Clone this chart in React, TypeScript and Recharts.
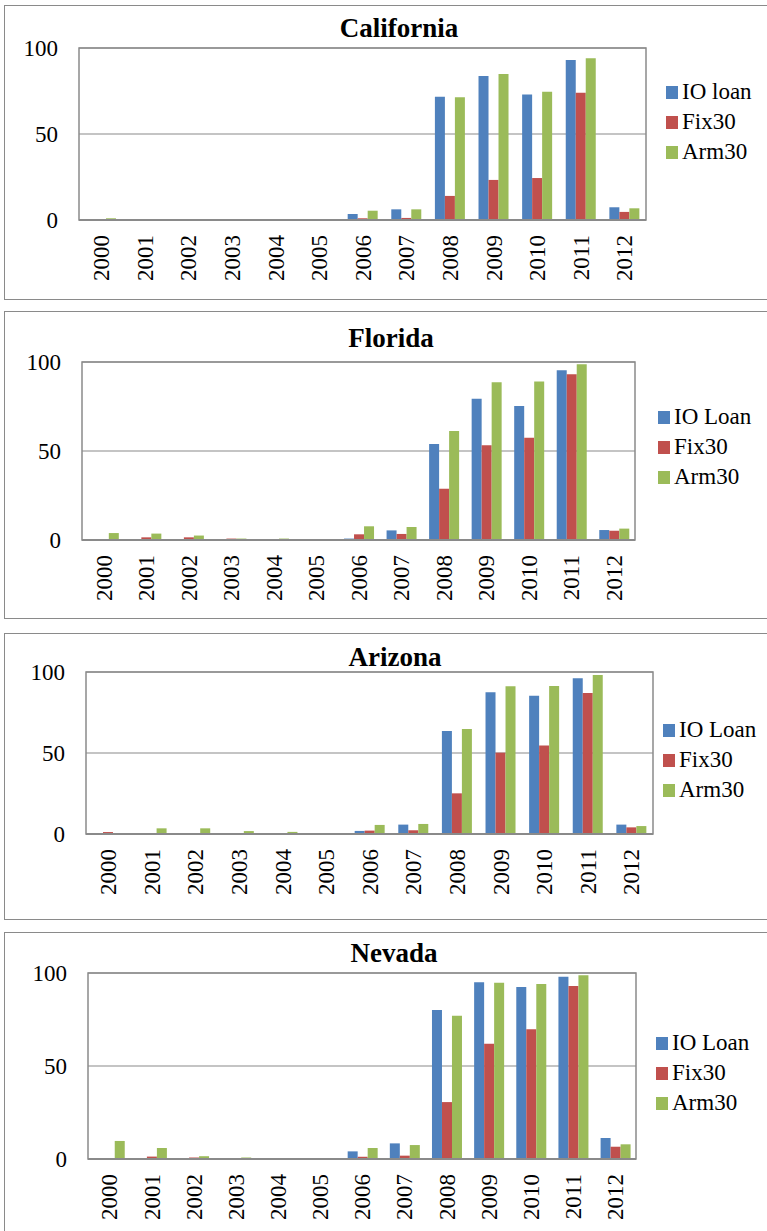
import React from 'react';
import { BarChart, Bar, XAxis, YAxis, CartesianGrid, Legend, ReferenceArea } from 'recharts';

const years = ['2000', '2001', '2002', '2003', '2004', '2005', '2006', '2007', '2008', '2009', '2010', '2011', '2012'];
const yTicks = [0, 50, 100];
const seriesColors = ['#4F81BD', '#C0504D', '#9BBB59'];

// California
const caIO = [0, 0, 0, 0, 0, 0, 3.5, 6.2, 71.7, 83.7, 72.9, 93, 7.4];
const caFix = [0.5, 0, 0, 0, 0, 0, 1, 1.2, 14, 23.3, 24.4, 74, 4.7];
const caArm = [1, 0, 0, 0, 0, 0, 5.4, 6.2, 71.3, 84.9, 74.6, 94, 6.8];

// Florida
const flIO = [0, 0, 0, 0, 0, 0, 0.8, 5.4, 54, 79.4, 75.3, 95.3, 5.6];
const flFix = [0, 1.5, 1.5, 0.8, 0.3, 0.3, 3.2, 3.4, 28.8, 53.2, 57.5, 93.1, 5.2];
const flArm = [3.9, 3.6, 2.5, 0.8, 0.8, 0.2, 7.7, 7.3, 61.2, 88.6, 89.1, 98.7, 6.4];

// Arizona
const azIO = [0, 0, 0, 0, 0, 0, 1.9, 5.8, 63.6, 87.5, 85.4, 96.1, 5.8];
const azFix = [1.2, 0, 0.4, 0.4, 0.4, 0.3, 2.1, 2.3, 25.1, 50.2, 54.7, 87, 4.1];
const azArm = [0, 3.5, 3.5, 1.8, 1.3, 0.2, 5.6, 6.2, 64.8, 91.2, 91.4, 98.1, 4.9];

// Nevada
const nvIO = [0, 0, 0, 0, 0, 0.2, 4.1, 8.4, 80.1, 95, 92.5, 98, 11.3];
const nvFix = [0, 1.3, 0.8, 0.3, 0.2, 0.2, 1.2, 1.8, 30.6, 62, 69.7, 93, 6.6];
const nvArm = [9.7, 5.9, 1.5, 0.8, 0.2, 0.2, 5.9, 7.5, 77, 94.8, 94.1, 98.8, 7.9];

const FONT = '"Liberation Serif", "Times New Roman", serif';

const makeRows = (io: number[], fix: number[], arm: number[]) =>
  years.map((year, i) => ({ year, io: io[i], fix: fix[i], arm: arm[i] }));

const panels = [
  {
    title: 'California', ioLabel: 'IO loan', rows: makeRows(caIO, caFix, caArm),
    boxTop: 5, boxBottom: 300, titleX: 399, titleY: 28,
    plot: { left: 79, right: 646, top: 48, bottom: 220 },
    legend: { x: 666, y: 92 },
  },
  {
    title: 'Florida', ioLabel: 'IO Loan', rows: makeRows(flIO, flFix, flArm),
    boxTop: 311, boxBottom: 619, titleX: 391, titleY: 338,
    plot: { left: 82, right: 635, top: 362, bottom: 540 },
    legend: { x: 658, y: 417 },
  },
  {
    title: 'Arizona', ioLabel: 'IO Loan', rows: makeRows(azIO, azFix, azArm),
    boxTop: 633, boxBottom: 920, titleX: 395, titleY: 657,
    plot: { left: 86, right: 653, top: 672, bottom: 834 },
    legend: { x: 663, y: 730 },
  },
  {
    title: 'Nevada', ioLabel: 'IO Loan', rows: makeRows(nvIO, nvFix, nvArm),
    boxTop: 932, boxBottom: 1245, titleX: 394, titleY: 953,
    plot: { left: 88, right: 636, top: 973, bottom: 1159 },
    legend: { x: 656, y: 1043 },
  },
];

const YearTick = (props: any) => {
  const { x, y, payload } = props;
  return (
    <g transform={`translate(${x},${y + 15})`}>
      <text transform="rotate(-90)" textAnchor="end" dy="0.36em" fontSize={23} fontFamily={FONT} fill="#000">
        {payload.value}
      </text>
    </g>
  );
};

const LegendBox = ({ labels }: { labels: string[] }) => (
  <div style={{ fontFamily: FONT, fontSize: 23, color: '#000' }}>
    {labels.map((label, i) => (
      <div key={label} style={{ height: 30, display: 'flex', alignItems: 'center' }}>
        <span style={{ width: 12, height: 13, background: seriesColors[i], marginRight: 4, display: 'inline-block' }} />
        <span>{label}</span>
      </div>
    ))}
  </div>
);

function Panel({ p }: { p: (typeof panels)[number] }) {
  const W = 767;
  const H = p.boxBottom - p.boxTop;
  const yAxisW = 60;
  const xAxisH = 70;
  const margin = {
    top: p.plot.top - p.boxTop,
    left: p.plot.left - yAxisW,
    right: W - p.plot.right,
    bottom: H - (p.plot.bottom - p.boxTop) - xAxisH,
  };
  const labels = [p.ioLabel, 'Fix30', 'Arm30'];
  return (
    <>
      <div style={{ position: 'absolute', left: 4, top: p.boxTop, width: 800, height: H, border: '1px solid #8a8a8a', boxSizing: 'border-box' }} />
      <div style={{ position: 'absolute', left: 0, top: p.boxTop, width: W, height: H }}>
        <BarChart width={W} height={H} data={p.rows} margin={margin} barCategoryGap="16%" barGap={0}>
          <CartesianGrid vertical={false} stroke="#8a8a8a" strokeWidth={1.2} />
          <ReferenceArea y1={0} y2={100} fill="none" stroke="#8a8a8a" strokeWidth={1.5} />
          <XAxis dataKey="year" interval={0} tickLine={false} tickSize={0} tickMargin={0} height={xAxisH}
            axisLine={{ stroke: '#8a8a8a', strokeWidth: 2 }} tick={<YearTick />} />
          <YAxis domain={[0, 100]} ticks={yTicks} width={yAxisW} tickLine={false} axisLine={false} tickSize={0} tickMargin={21}
            tick={{ fontSize: 23, fontFamily: FONT, fill: '#000' }} />
          <Legend layout="vertical" align="center" verticalAlign="middle"
            wrapperStyle={{ left: p.legend.x, top: p.legend.y - p.boxTop - 15, width: 110 }}
            content={() => <LegendBox labels={labels} />} />
          <Bar dataKey="io" name={p.ioLabel} fill={seriesColors[0]} isAnimationActive={false} />
          <Bar dataKey="fix" name="Fix30" fill={seriesColors[1]} isAnimationActive={false} />
          <Bar dataKey="arm" name="Arm30" fill={seriesColors[2]} isAnimationActive={false} />
        </BarChart>
        <div style={{ position: 'absolute', left: p.titleX - 150, top: p.titleY - p.boxTop - 16, width: 300, textAlign: 'center',
          fontFamily: FONT, fontWeight: 'bold', fontSize: 27, lineHeight: '32px', color: '#000' }}>
          {p.title}
        </div>
      </div>
    </>
  );
}

export default function App() {
  return (
    <div style={{ position: 'absolute', left: 0, top: 0, width: 767, height: 1231, overflow: 'hidden', background: '#fff' }}>
      {panels.map((p) => <Panel key={p.title} p={p} />)}
    </div>
  );
}
